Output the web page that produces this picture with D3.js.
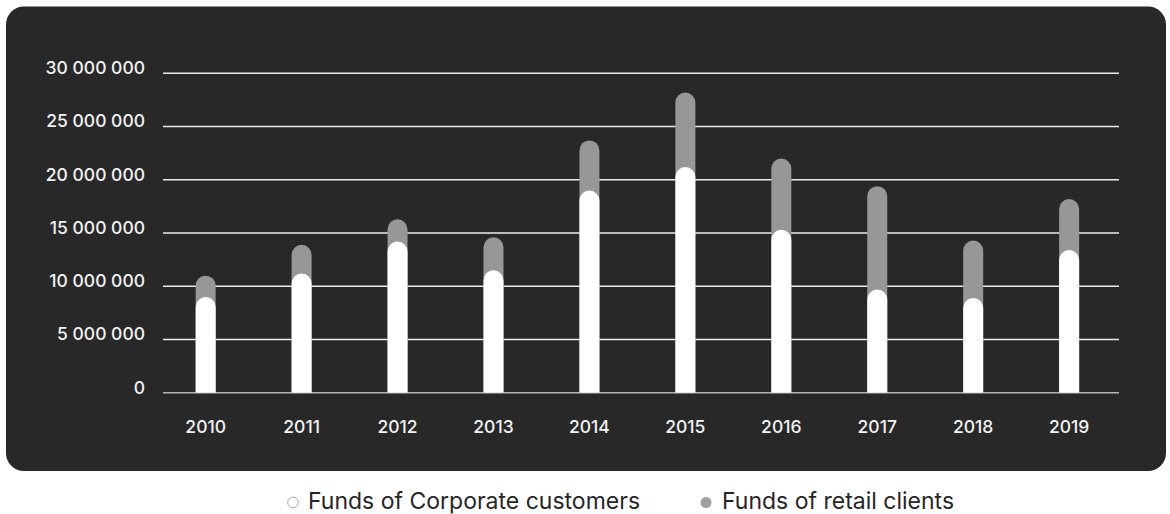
<!DOCTYPE html>
<html>
<head>
<meta charset="utf-8">
<script src="https://cdn.jsdelivr.net/npm/d3@7/dist/d3.min.js"></script>
<style>
  html, body { margin: 0; padding: 0; background: #ffffff; }
  svg { display: block; }
</style>
</head>
<body>
<svg id="chart" width="1170" height="514"></svg>
<script>
const years = ["2010","2011","2012","2013","2014","2015","2016","2017","2018","2019"];
const corporateFunds = [9000000, 11200000, 14200000, 11500000, 19000000, 21200000, 15300000, 9700000, 8900000, 13400000];
const retailFunds    = [2000000, 2700000, 2100000, 3100000, 4700000, 7000000, 6700000, 9700000, 5400000, 4800000];
const yTicks = [0, 5000000, 10000000, 15000000, 20000000, 25000000, 30000000];
const legendLabels = ["Funds of Corporate customers", "Funds of retail clients"];

const svg = d3.select("#chart");

// panel
svg.append("rect")
  .attr("x", 6).attr("y", 6.5)
  .attr("width", 1160).attr("height", 464.5)
  .attr("rx", 18).attr("ry", 18)
  .attr("fill", "#282828");

const x = d3.scaleBand().domain(years).range([157.7, 1117.1]).padding(0);
const y = d3.scaleLinear().domain([0, 30000000]).range([392.8, 73.3]);

const fmt = v => d3.format(",")(v).replace(/,/g, " ");

// gridlines
svg.append("g").selectAll("line").data(yTicks).join("line")
  .attr("x1", 163).attr("x2", 1119)
  .attr("y1", d => y(d)).attr("y2", d => y(d))
  .attr("stroke", d => d === 0 ? "#b4b4b4" : "#ececec")
  .attr("stroke-width", 1.5);

// y labels
svg.append("g").selectAll("text").data(yTicks).join("text")
  .attr("x", 145).attr("y", d => y(d) + 0.7)
  .attr("text-anchor", "end")
  .attr("fill", "#f2f2f2")
  .attr("font-family", "Inter, 'Liberation Sans', sans-serif")
  .attr("font-weight", 500)
  .attr("font-size", 17.5)
  .text(d => fmt(d));

// x labels
svg.append("g").selectAll("text").data(years).join("text")
  .attr("x", d => x(d) + x.bandwidth() / 2)
  .attr("y", 432.7)
  .attr("text-anchor", "middle")
  .attr("fill", "#f2f2f2")
  .attr("font-family", "Inter, 'Liberation Sans', sans-serif")
  .attr("font-weight", 500)
  .attr("font-size", 17.5)
  .text(d => d);

const barW = 20, r = barW / 2;
function barPath(cx, yTop, yBase) {
  const l = cx - barW / 2, rr = cx + barW / 2;
  const p = d3.path();
  p.moveTo(l, yBase);
  p.lineTo(l, yTop + r);
  p.arc(cx, yTop + r, r, Math.PI, 0);
  p.lineTo(rr, yBase);
  p.closePath();
  return p.toString();
}

const data = years.map((yr, i) => ({ yr, corp: corporateFunds[i], total: corporateFunds[i] + retailFunds[i] }));

// retail (stacked on top), drawn as full-height gray bar
svg.append("g").selectAll("path").data(data).join("path")
  .attr("d", d => barPath(x(d.yr) + x.bandwidth() / 2, y(d.total), y(0)))
  .attr("fill", "#979797");

// corporate
svg.append("g").selectAll("path").data(data).join("path")
  .attr("d", d => barPath(x(d.yr) + x.bandwidth() / 2, y(d.corp), y(0)))
  .attr("fill", "#ffffff");

// legend
const lg = svg.append("g");
lg.append("circle").attr("cx", 293).attr("cy", 502.5).attr("r", 5.3)
  .attr("fill", "none").attr("stroke", "#a8a8a8").attr("stroke-width", 1);
lg.append("text").attr("x", 308).attr("y", 508.5)
  .attr("fill", "#262626")
  .attr("font-family", "Inter, 'Liberation Sans', sans-serif")
  .attr("font-size", 23)
  .text(legendLabels[0]);
lg.append("circle").attr("cx", 706).attr("cy", 502.5).attr("r", 5.5)
  .attr("fill", "#a0a0a0");
lg.append("text").attr("x", 722).attr("y", 508.5)
  .attr("fill", "#262626")
  .attr("font-family", "Inter, 'Liberation Sans', sans-serif")
  .attr("font-size", 23)
  .text(legendLabels[1]);
</script>
</body>
</html>
